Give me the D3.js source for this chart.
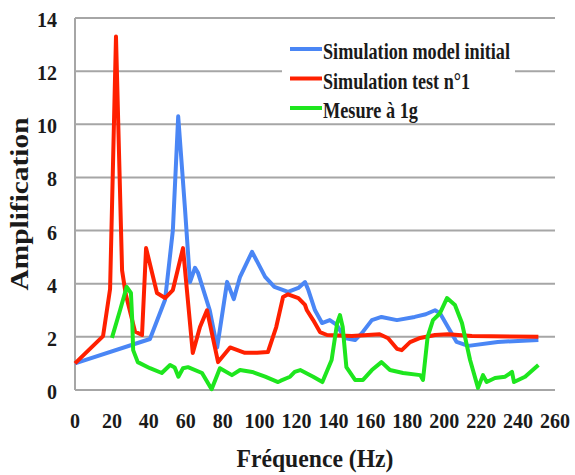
<!DOCTYPE html>
<html>
<head>
<meta charset="utf-8">
<script src="https://cdn.jsdelivr.net/npm/d3@7"></script>
<style>
  body { margin: 0; background: #fff; }
</style>
</head>
<body>
<svg width="575" height="475"></svg>
<script>
// values
var blueFreq = [0, 40.6, 48.8, 53, 55.9, 59.6, 62.3, 65, 66.7, 73, 77, 82.4, 86, 89.4, 95.9, 103, 108, 115.4, 121, 124.6,
    126.4, 130, 133.8, 138, 141.8, 146, 151.7, 155.4, 160.8, 166, 174.4, 184, 190, 195, 197.7, 202, 206.7, 213, 229, 251];
var blueAmp = [1.0, 1.92, 3.4, 6.0, 10.3, 6.8, 4.06, 4.6, 4.4, 3.0, 1.6, 4.07, 3.42, 4.26, 5.2, 4.26, 3.88, 3.69, 3.84, 4.06,
    3.76, 3.0, 2.52, 2.63, 2.45, 1.96, 1.88, 2.14, 2.63, 2.75, 2.63, 2.75, 2.85, 3.0, 2.89, 2.37, 1.81, 1.66, 1.81, 1.88];

var redFreq = [0, 15.2, 19, 22.2, 25.5, 27.5, 32.5, 36.3, 38.5, 44.4, 48.8, 53, 58.5, 63.8, 67.7, 71.5, 77.5, 84, 88, 92,
    98.6, 104.5, 109, 112.7, 115.4, 121, 124.6, 125.6, 129, 132.7, 136.5, 150, 165, 169.6, 174.4, 177, 181.5, 187, 195, 202, 215, 251];
var redAmp = [1.0, 2.03, 3.8, 13.3, 4.5, 3.6, 2.2, 2.07, 5.34, 3.65, 3.46, 3.76, 5.34, 1.39, 2.37, 3.0, 1.05, 1.6, 1.5, 1.4,
    1.4, 1.43, 2.37, 3.5, 3.6, 3.46, 3.2, 3.0, 2.63, 2.18, 2.07, 2.03, 2.1, 1.95, 1.55, 1.5, 1.8, 1.96, 2.07, 2.1, 2.03, 2.0];

var greenFreq = [20, 24.4, 28, 30.3, 31, 31.5, 34, 40.6, 47, 51.5, 54, 56, 58.5, 61.2, 68.8, 74, 78.5, 85, 89.4, 96,
    103, 110, 111.5, 116.5, 119, 122, 129, 134, 139, 142, 143.5, 145, 147, 151.7, 156, 160.8, 166, 170.6, 177.7, 187,
    188.5, 191, 193.9, 197.7, 201.5, 205.8, 209.6, 214, 218.3, 221, 223, 227.5, 233, 236.7, 237.8, 243.8, 251];
var greenAmp = [1.96, 3.0, 3.88, 3.65, 2.63, 1.5, 1.05, 0.82, 0.64, 0.94, 0.85, 0.5, 0.82, 0.86, 0.64, 0.03, 0.82, 0.56, 0.75, 0.68,
    0.5, 0.3, 0.35, 0.5, 0.68, 0.75, 0.5, 0.3, 1.13, 2.52, 2.82, 2.37, 0.86, 0.38, 0.38, 0.75, 1.05, 0.75, 0.64, 0.56,
    0.38, 2.0, 2.63, 2.89, 3.46, 3.2, 2.52, 1.13, 0.08, 0.56, 0.3, 0.45, 0.5, 0.68, 0.3, 0.5, 0.94];

var xTicks = [0, 20, 40, 60, 80, 100, 120, 140, 160, 180, 200, 220, 240, 260];
var yTicks = [0, 2, 4, 6, 8, 10, 12, 14];
var seriesNames = ["Simulation model initial", "Simulation test n°1", "Mesure à 1g"];
var seriesColors = ["#4a86f5", "#ff2000", "#1ee61e"];

var FONT = "Liberation Serif";
var svg = d3.select("svg");

var x = d3.scaleLinear().domain([0, 260]).range([75, 555]);
var y = d3.scaleLinear().domain([0, 14]).range([390, 18]);

// horizontal grid
svg.append("g")
    .selectAll("line")
    .data(yTicks.filter(function (d) { return d > 0; }))
    .enter()
    .append("line")
    .attr("x1", x(0))
    .attr("x2", x(260))
    .attr("y1", function (d) { return y(d); })
    .attr("y2", function (d) { return y(d); })
    .attr("stroke", "#a6a6a6")
    .attr("stroke-width", 2);

// axes lines
svg.append("line")
    .attr("x1", x(0)).attr("x2", x(0))
    .attr("y1", y(14)).attr("y2", y(0))
    .attr("stroke", "#a6a6a6").attr("stroke-width", 2);
svg.append("line")
    .attr("x1", x(0)).attr("x2", x(260))
    .attr("y1", y(0)).attr("y2", y(0))
    .attr("stroke", "#a6a6a6").attr("stroke-width", 2);

function label(sel, size) {
    return sel.attr("font-family", FONT)
        .attr("font-weight", "bold")
        .attr("font-size", size)
        .attr("fill", "#1a1a1a");
}

// tick labels
svg.append("g")
    .selectAll("text")
    .data(yTicks)
    .enter()
    .append("text")
    .call(label, 20)
    .attr("x", 57)
    .attr("y", function (d) { return y(d) + 9; })
    .attr("text-anchor", "end")
    .text(function (d) { return d; });

svg.append("g")
    .selectAll("text")
    .data(xTicks)
    .enter()
    .append("text")
    .call(label, 20)
    .attr("x", function (d) { return x(d); })
    .attr("y", 428)
    .attr("text-anchor", "middle")
    .text(function (d) { return d; });

// axis titles (condensed in the original)
svg.append("text")
    .call(label, 25)
    .attr("transform", "translate(28,204) rotate(-90)")
    .attr("text-anchor", "middle")
    .attr("textLength", 173)
    .attr("lengthAdjust", "spacingAndGlyphs")
    .text("Amplification");

svg.append("text")
    .call(label, 25)
    .attr("x", 315)
    .attr("y", 467)
    .attr("text-anchor", "middle")
    .attr("textLength", 157)
    .attr("lengthAdjust", "spacingAndGlyphs")
    .text("Fréquence (Hz)");

// series
var line = d3.line()
    .x(function (d) { return x(d[0]); })
    .y(function (d) { return y(d[1]); });

var series = [
    d3.zip(blueFreq, blueAmp),
    d3.zip(redFreq, redAmp),
    d3.zip(greenFreq, greenAmp)
];

// legend box hides the grid behind it
svg.append("rect")
    .attr("x", 282).attr("y", 36)
    .attr("width", 233).attr("height", 84)
    .attr("fill", "#fff");

svg.append("g")
    .selectAll("path")
    .data(series)
    .enter()
    .append("path")
    .attr("d", line)
    .attr("fill", "none")
    .attr("stroke", function (d, i) { return seriesColors[i]; })
    .attr("stroke-width", 4)
    .attr("stroke-linejoin", "round");

// legend
var legend = svg.append("g")
    .selectAll("g")
    .data(seriesNames)
    .enter()
    .append("g")
    .attr("transform", function (d, i) { return "translate(290," + (49 + i * 29.5) + ")"; });

legend.append("line")
    .attr("x1", 0).attr("x2", 32)
    .attr("stroke", function (d, i) { return seriesColors[i]; })
    .attr("stroke-width", 4);

legend.append("text")
    .call(label, 23)
    .attr("x", 33)
    .attr("y", 10)
    .attr("lengthAdjust", "spacingAndGlyphs")
    .attr("textLength", function (d, i) { return [187, 147, 95][i]; })
    .text(function (d) { return d; });
</script>
</body>
</html>
